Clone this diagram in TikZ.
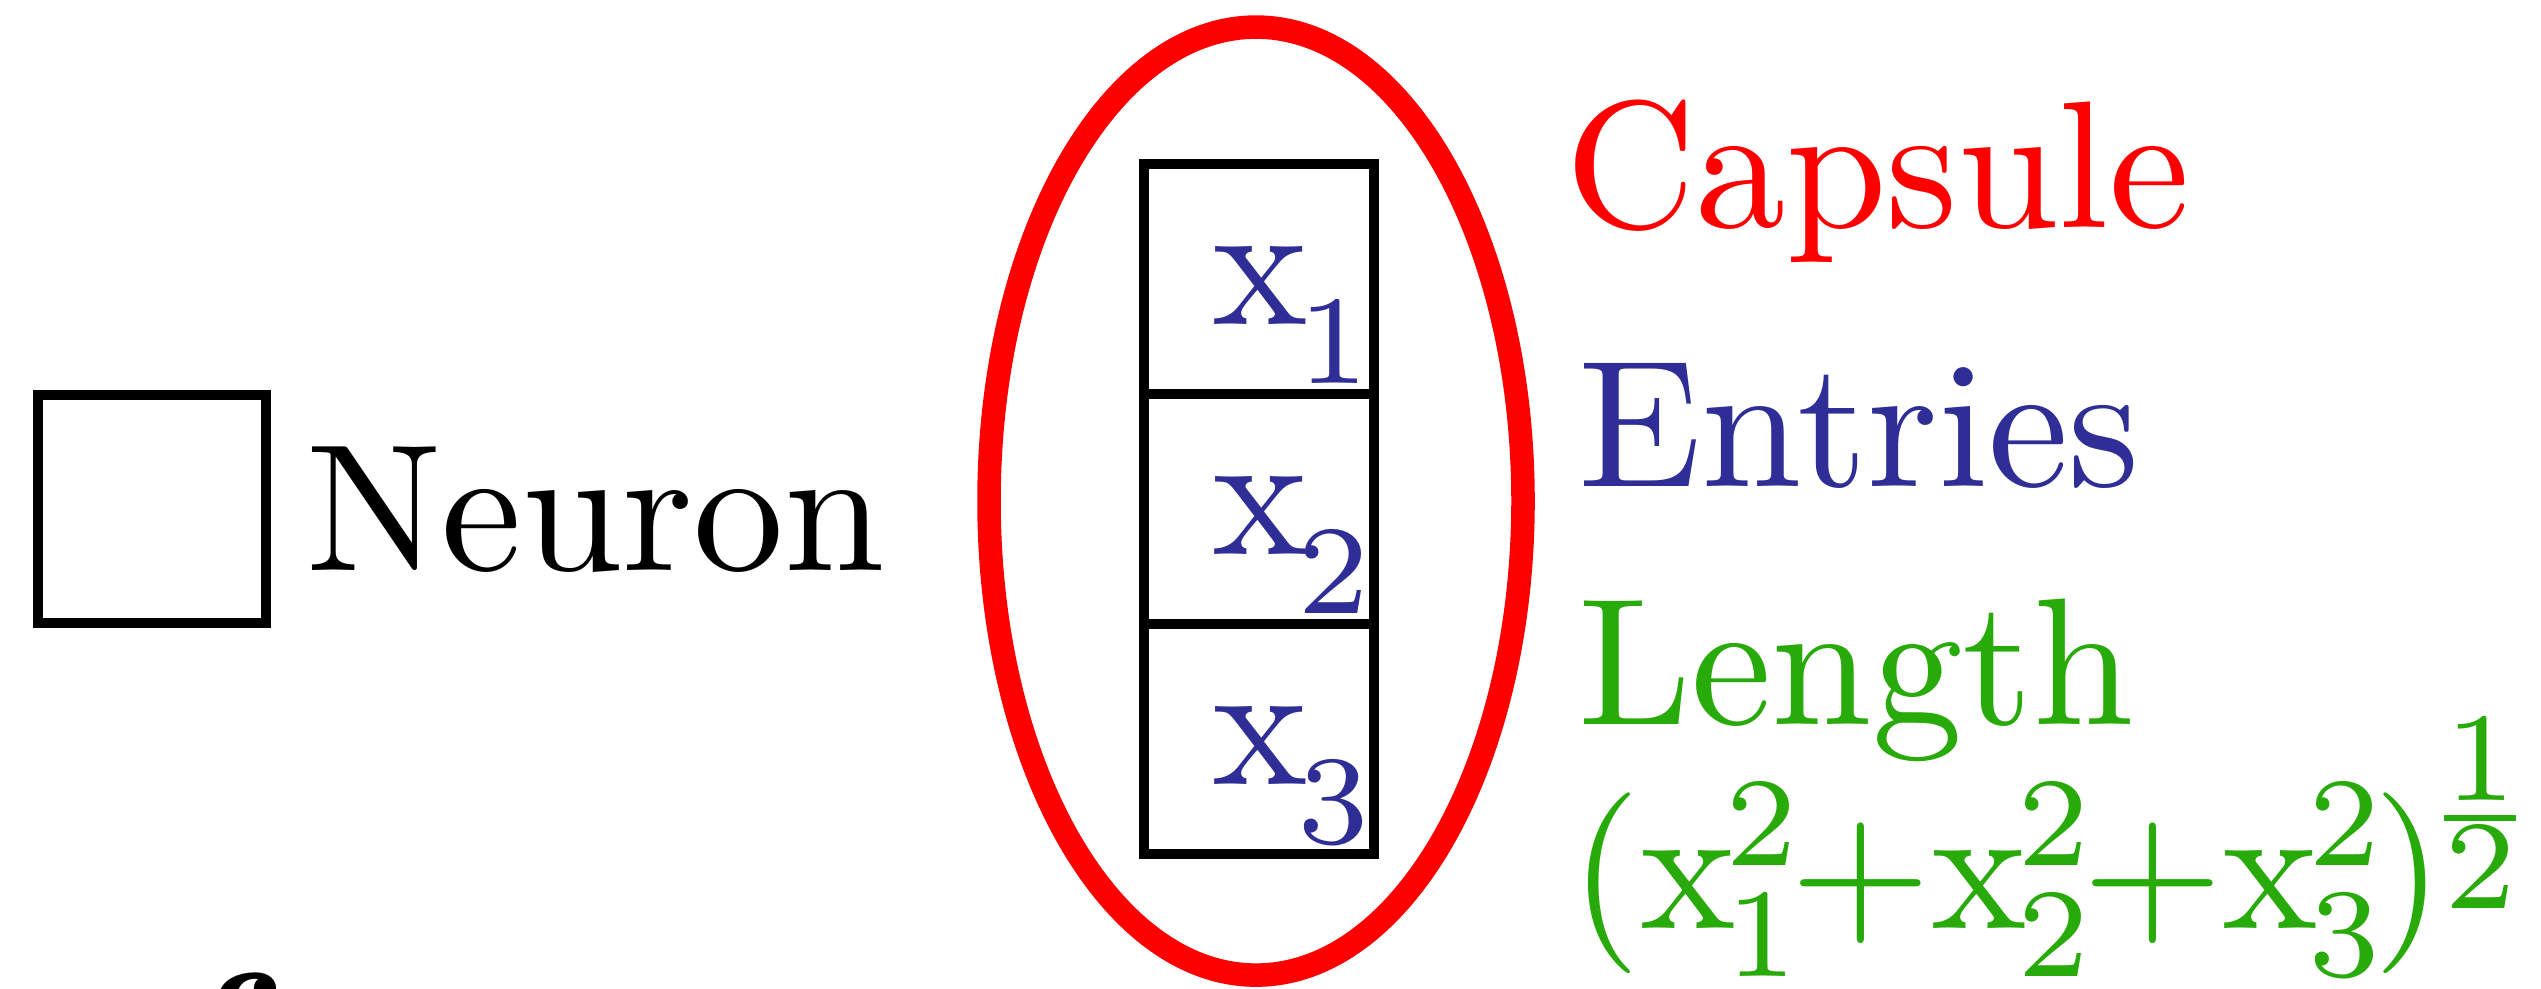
\documentclass[tikz,border=0pt]{standalone}
\usepackage{mathtools}
\usetikzlibrary{shapes.geometric}
\definecolor{capred}{RGB}{255,0,0}
\definecolor{entblue}{RGB}{46,46,150}
\definecolor{lengreen}{RGB}{40,170,10}
\def\pxu{0.05525pt}
\newcommand\xsub[1]{{\mathrm{x}\mkern-1mu}_{\lower1.8pt\hbox{$\scriptstyle #1$}}}
\newcommand\xsq[1]{{\mathrm{x}\mkern-1mu}_{#1}^{2}\mkern-0.7mu}
\begin{document}
\begin{tikzpicture}[x=0.05525pt,y=-0.05525pt,
  cell/.style={draw=black, line width=0.55pt, minimum width={230*\pxu}, minimum height={230*\pxu}, inner sep=0pt, outer sep=0pt},
  lbl/.style={anchor=base west, inner sep=0pt, outer sep=0pt}]
\path[use as bounding box, clip] (0,0) rectangle (2541,988);
% neuron legend
\node[cell, minimum width={228*\pxu}, minimum height={228*\pxu}] (neuron) at (152,509) {};
\node[lbl] (neurontxt) at (306,570) {Neuron};
% capsule
\node[ellipse, draw=capred, line width=1.3pt, minimum width={534*\pxu}, minimum height={948*\pxu}, inner sep=0pt] (capsule) at (1256,501) {};
\node[cell] (e1) at (1259,279) {};
\node[cell] (e2) at (1259,509) {};
\node[cell] (e3) at (1259,739) {};
\node[lbl, text=entblue] (x1) at (1212,324) {$\xsub{1}$};
\node[lbl, text=entblue] (x2) at (1212,554) {$\xsub{2}$};
\node[lbl, text=entblue] (x3) at (1212,784) {$\xsub{3}$};
% labels
\node[lbl, text=capred] (captxt) at (1565,227) {Capsule};
\node[lbl, text=entblue] (enttxt) at (1578,486) {Entries};
\node[lbl, text=lengreen] (lentxt) at (1578,724) {Length};
\node[lbl, text=lengreen] (formula) at (1570,928) {\scriptspace=0pt\nulldelimiterspace=0pt
  $\cramped{(\xsq{1}{+}\xsq{2}{+}\xsq{3})^{\frac{\scriptstyle 1}{\scriptstyle 2}}}$};
% cut-off fragment at the bottom edge
\node[lbl] (frag) at (197,1099) {\textbf{f}};
\end{tikzpicture}
\end{document}
